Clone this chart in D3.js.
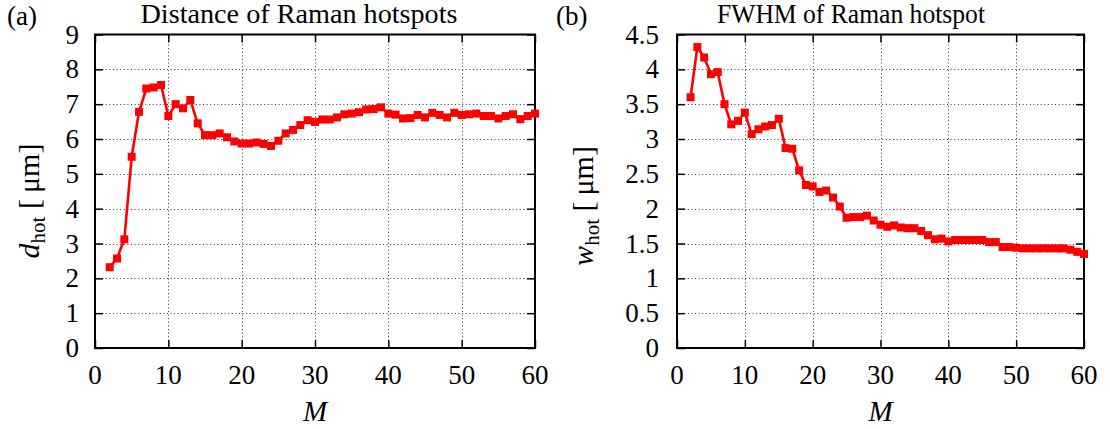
<!DOCTYPE html>
<html>
<head>
<meta charset="utf-8">
<script src="https://cdn.jsdelivr.net/npm/d3@7"></script>
<style>
  html, body { margin: 0; padding: 0; background: #fff; }
  svg { display: block; }
</style>
</head>
<body>
<svg id="chart" width="1110" height="429"></svg>
<script>
// Number of modes M
const mValues = [2, 3, 4, 5, 6, 7, 8, 9, 10, 11, 12, 13, 14, 15, 16, 17, 18, 19, 20,
  21, 22, 23, 24, 25, 26, 27, 28, 29, 30, 31, 32, 33, 34, 35, 36, 37, 38, 39, 40,
  41, 42, 43, 44, 45, 46, 47, 48, 49, 50, 51, 52, 53, 54, 55, 56, 57, 58, 59, 60];

// Distance between Raman hotspots d_hot [µm]
const dHot = [2.32, 2.57, 3.12, 5.49, 6.78, 7.45, 7.48, 7.55, 6.66, 7.00, 6.88, 7.12, 6.45,
  6.11, 6.11, 6.16, 6.05, 5.93, 5.87, 5.87, 5.90, 5.86, 5.80, 5.95, 6.16, 6.26, 6.40,
  6.54, 6.49, 6.56, 6.56, 6.62, 6.71, 6.73, 6.77, 6.85, 6.86, 6.91, 6.73, 6.70, 6.59,
  6.60, 6.69, 6.62, 6.75, 6.69, 6.62, 6.75, 6.69, 6.71, 6.73, 6.66, 6.66, 6.59, 6.66,
  6.71, 6.57, 6.66, 6.73];

// FWHM of the Raman hotspot w_hot [µm]
const wHot = [3.60, 4.32, 4.17, 3.93, 3.96, 3.50, 3.21, 3.26, 3.38, 3.07, 3.14, 3.18, 3.20,
  3.29, 2.87, 2.86, 2.55, 2.34, 2.32, 2.24, 2.26, 2.16, 2.03, 1.87, 1.88, 1.88, 1.90,
  1.83, 1.77, 1.74, 1.76, 1.73, 1.72, 1.72, 1.68, 1.62, 1.56, 1.57, 1.53, 1.55, 1.55,
  1.55, 1.55, 1.55, 1.52, 1.52, 1.45, 1.45, 1.44, 1.43, 1.43, 1.43, 1.43, 1.43, 1.43,
  1.43, 1.41, 1.38, 1.35];

// Tick values
const xTicks = [0, 10, 20, 30, 40, 50, 60];
const yTicksA = [0, 1, 2, 3, 4, 5, 6, 7, 8, 9];
const yTicksB = [0, 0.5, 1, 1.5, 2, 2.5, 3, 3.5, 4, 4.5];

const SERIF = "'Liberation Serif', 'Times New Roman', serif";
const svg = d3.select("#chart");
const FS = 27;

function panel(opts) {
  const { x0, x1, y0, y1, yDomain, yTicks, values, title, titleX, titleW, tag, tagX,
          ySym, yLabelX, yLabelY, tickLabelX } = opts;
  const x = d3.scaleLinear().domain([0, 60]).range([x0, x1]);
  const y = d3.scaleLinear().domain(yDomain).range([y0, y1]);
  const g = svg.append("g").attr("font-family", SERIF);

  // dotted grid
  const grid = g.append("g").attr("stroke", "#333").attr("stroke-width", 1)
    .attr("stroke-dasharray", "1,2.6");
  grid.selectAll("line.gx").data(xTicks.slice(1, -1)).join("line")
    .attr("x1", d => Math.round(x(d)) + 0.5).attr("x2", d => Math.round(x(d)) + 0.5)
    .attr("y1", y0).attr("y2", y1);
  grid.selectAll("line.gy").data(yTicks.slice(1, -1)).join("line")
    .attr("y1", d => Math.round(y(d)) + 0.5).attr("y2", d => Math.round(y(d)) + 0.5)
    .attr("x1", x0).attr("x2", x1);

  // inward ticks on all four sides
  const TL = 8;
  const bottom = d3.axisTop(x).tickValues(xTicks).tickSize(TL).tickFormat("");
  const top = d3.axisBottom(x).tickValues(xTicks).tickSize(TL).tickFormat("");
  const left = d3.axisRight(y).tickValues(yTicks).tickSize(TL).tickFormat("");
  const right = d3.axisLeft(y).tickValues(yTicks).tickSize(TL).tickFormat("");
  [[bottom, `translate(0,${y0})`], [top, `translate(0,${y1})`],
   [left, `translate(${x0},0)`], [right, `translate(${x1},0)`]].forEach(([ax, tr]) => {
    const a = g.append("g").attr("transform", tr).call(ax);
    a.select(".domain").remove();
    a.selectAll(".tick line").attr("stroke", "#000").attr("stroke-width", 1.5);
  });

  // tick labels
  g.selectAll("text.xl").data(xTicks).join("text")
    .attr("font-family", SERIF)
    .attr("x", d => x(d)).attr("y", y0 + 36)
    .attr("text-anchor", "middle").attr("font-size", FS).text(d => d);
  g.selectAll("text.yl").data(yTicks).join("text")
    .attr("font-family", SERIF)
    .attr("x", tickLabelX).attr("y", d => y(d) + 9)
    .attr("text-anchor", "end").attr("font-size", FS).text(d => d);

  // frame
  g.append("rect").attr("x", x0).attr("y", y1)
    .attr("width", x1 - x0).attr("height", y0 - y1)
    .attr("fill", "none").attr("stroke", "#000").attr("stroke-width", 2);

  // series
  const pts = mValues.map((m, i) => [m, values[i]]);
  g.append("path").datum(pts)
    .attr("fill", "none").attr("stroke", "#ff0000").attr("stroke-width", 2.6)
    .attr("stroke-linejoin", "round")
    .attr("d", d3.line().x(d => x(d[0])).y(d => y(d[1])));
  const S = 8;
  g.selectAll("rect.pt").data(pts).join("rect")
    .attr("x", d => x(d[0]) - S / 2).attr("y", d => y(d[1]) - S / 2)
    .attr("width", S).attr("height", S).attr("fill", "#ff0000");

  // title and panel tag
  g.append("text").attr("x", titleX).attr("y", 23).attr("text-anchor", "middle")
    .attr("font-family", SERIF).attr("font-size", 27)
    .attr("textLength", titleW).attr("lengthAdjust", "spacingAndGlyphs").text(title);
  g.append("text").attr("x", tagX).attr("y", 25).attr("font-family", SERIF)
    .attr("font-size", FS).text(tag);

  // x label
  g.append("text").attr("x", (x0 + x1) / 2).attr("y", 421)
    .attr("text-anchor", "middle").attr("font-family", SERIF).attr("font-size", 29)
    .attr("font-style", "italic").text("M");

  // y label
  const yl = g.append("text")
    .attr("transform", `translate(${yLabelX},${yLabelY}) rotate(-90)`)
    .attr("text-anchor", "middle").attr("font-family", SERIF).attr("font-size", 30);
  yl.append("tspan").attr("font-style", "italic").text(ySym);
  yl.append("tspan").attr("font-size", 21).attr("dy", 6).text("hot");
  yl.append("tspan").attr("dy", -6).text(" [\u2009\u03bcm]");
}

panel({
  x0: 95, x1: 535, y0: 348, y1: 34.5, yDomain: [0, 9], yTicks: yTicksA,
  values: dHot, title: "Distance of Raman hotspots", titleX: 299, titleW: 317,
  tag: "(a)", tagX: 7, ySym: "d", yLabelX: 39, yLabelY: 201, tickLabelX: 79
});
panel({
  x0: 677, x1: 1084, y0: 348, y1: 34.5, yDomain: [0, 4.5], yTicks: yTicksB,
  values: wHot, title: "FWHM of Raman hotspot", titleX: 851, titleW: 268,
  tag: "(b)", tagX: 556, ySym: "w", yLabelX: 593, yLabelY: 206, tickLabelX: 659
});
</script>
</body>
</html>
